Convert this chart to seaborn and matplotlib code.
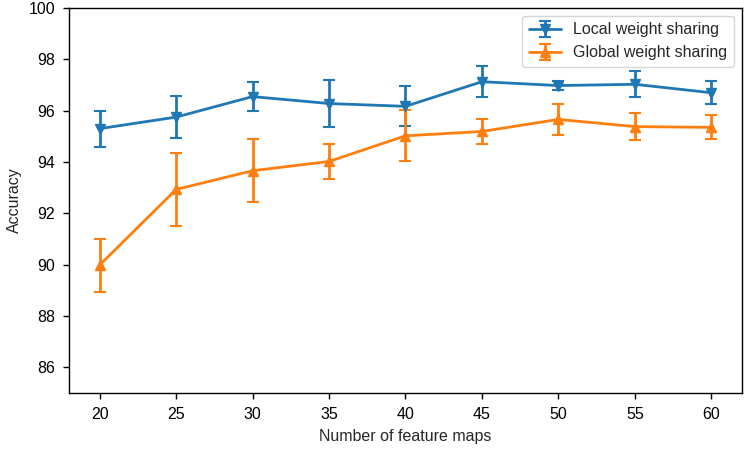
import numpy as np
import matplotlib
matplotlib.use("Agg")
import matplotlib.pyplot as plt
import seaborn as sns

# values
feature_maps = [20, 25, 30, 35, 40, 45, 50, 55, 60]
local_acc = [95.30, 95.75, 96.55, 96.28, 96.17, 97.13, 96.98, 97.03, 96.70]
local_err = [0.70, 0.82, 0.55, 0.92, 0.78, 0.60, 0.18, 0.50, 0.45]
global_acc = [89.98, 92.93, 93.66, 94.02, 95.02, 95.19, 95.66, 95.38, 95.35]
global_err = [1.03, 1.42, 1.23, 0.69, 1.00, 0.50, 0.60, 0.53, 0.47]

sns.set_style("ticks")
plt.rcParams['font.family'] = ['Liberation Sans', 'DejaVu Sans']
plt.rcParams['font.size'] = 11.5
colors = sns.color_palette("tab10")

fig = plt.figure(figsize=(7.46, 4.5), dpi=100)
ax = fig.add_axes([0.0925, 0.127, 0.902, 0.855])

ax.errorbar(feature_maps, local_acc, yerr=local_err, fmt='-v', color=colors[0],
            lw=2, elinewidth=2, capsize=4, capthick=1.5, ms=6.5, label="Local weight sharing")
ax.errorbar(feature_maps, global_acc, yerr=global_err, fmt='-^', color=colors[1],
            lw=2, elinewidth=2, capsize=4, capthick=1.5, ms=6.5, label="Global weight sharing")

ax.set_xlim(18, 62)
ax.set_ylim(85, 100)
ax.set_xticks(feature_maps)
ax.set_yticks(np.arange(86, 101, 2))
ax.set_xlabel("Number of feature maps", labelpad=5)
ax.set_ylabel("Accuracy", labelpad=5)
for s in ax.spines.values():
    s.set_color("black")
    s.set_linewidth(1)
ax.tick_params(colors="black", direction="out", length=4, width=1, pad=6)
leg = ax.legend(loc="upper right", fontsize=11.5, frameon=True)
leg.get_frame().set_edgecolor("#cccccc")

fig.savefig("out.png", dpi=100)
